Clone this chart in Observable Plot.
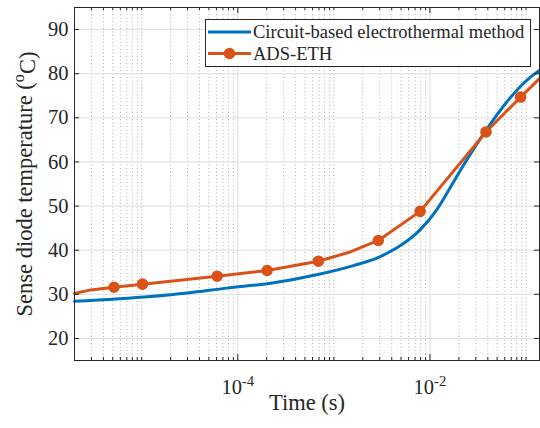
<!DOCTYPE html>
<html>
<head>
<meta charset="utf-8">
<script src="https://cdn.jsdelivr.net/npm/d3@7"></script>
<script src="https://cdn.jsdelivr.net/npm/@observablehq/plot@0.6"></script>
<style>
  html, body { margin: 0; padding: 0; background: white; }
  #chart { width: 540px; height: 428px; }
</style>
</head>
<body>
<div id="chart"></div>
<script>
// ---- data ----
const circuitTime = [2e-6, 1.24e-5, 3e-5, 7.6e-5, 2.19e-4, 7.2e-4, 1.6e-3, 3e-3, 5.3e-3, 7.9e-3, 1.18e-2, 1.68e-2, 2.06e-2, 3.89e-2, 6.3e-2, 8.63e-2, 0.1096, 0.138];
const circuitTemp = [28.4, 29.5, 30.3, 31.4, 32.5, 34.6, 36.5, 38.5, 41.5, 44.6, 49.2, 54.7, 58.0, 67.4, 73.6, 77.0, 79.1, 80.7];

const adsTime = [2e-6, 2.95e-6, 5.15e-6, 1.02e-5, 6.1e-5, 2.02e-4, 6.9e-4, 1.48e-3, 2.9e-3, 7.9e-3, 3.83e-2, 8.77e-2, 0.138];
const adsTemp = [30.2, 31.0, 31.6, 32.3, 34.1, 35.4, 37.5, 39.6, 42.2, 48.8, 66.8, 74.7, 78.9];
const adsMarkerIndex = [2, 3, 4, 5, 6, 8, 9, 10, 11];

const xTicks = [1e-4, 1e-2];
const yTicks = [20, 30, 40, 50, 60, 70, 80, 90];
const xDomain = [2e-6, 0.138];
const yDomain = [15, 95];

const seriesNames = ["Circuit-based electrothermal method", "ADS-ETH"];
const seriesColors = ["#0072BD", "#D95319"];
const xLabel = "Time (s)";
const yLabel = "Sense diode temperature (oC)";

// ---- derived tables ----
const circuit = circuitTime.map((t, i) => ({t, T: circuitTemp[i]}));
const ads = adsTime.map((t, i) => ({t, T: adsTemp[i]}));
const adsMarkers = adsMarkerIndex.map(i => ads[i]);

const minorX = [];
for (let e = -6; e <= -1; e++) {
  for (let m = 1; m <= 9; m++) {
    const v = +(m * Math.pow(10, e)).toPrecision(3);
    if (v >= xDomain[0] && v <= xDomain[1] && !xTicks.some(t => Math.abs(t - v) / t < 1e-6)) minorX.push(v);
  }
}

const W = 540, H = 428, mL = 74, mR = 1, mT = 7, mB = 68;
const fw = W - mL - mR, fh = H - mT - mB;
const axisColor = "#262626";
const tickFont = 20.5, labelFont = 22.5, legendFont = 18.5;

const plot = Plot.plot({
  width: W, height: H,
  marginLeft: mL, marginRight: mR, marginTop: mT, marginBottom: mB,
  style: {fontFamily: "'Liberation Serif', 'Times New Roman', serif", fontSize: tickFont + "px", color: axisColor, background: "white"},
  x: {type: "log", domain: xDomain, axis: null},
  y: {domain: yDomain, axis: null},
  marks: [
    // grid
    Plot.ruleX(minorX, {x: d => d, stroke: "#b0b0b0", strokeDasharray: "1,2.5", strokeWidth: 1}),
    Plot.ruleX(xTicks, {x: d => d, stroke: "#dedede", strokeWidth: 1}),
    Plot.ruleY(yTicks, {y: d => d, stroke: "#dedede", strokeWidth: 1}),
    // data
    Plot.line(circuit, {x: "t", y: "T", stroke: seriesColors[0], strokeWidth: 3, curve: "monotone-x"}),
    Plot.line(ads, {x: "t", y: "T", stroke: seriesColors[1], strokeWidth: 3}),
    Plot.dot(adsMarkers, {x: "t", y: "T", r: 4.8, fill: seriesColors[1], stroke: seriesColors[1], strokeWidth: 2}),
    // frame and inward ticks
    Plot.frame({stroke: axisColor, strokeWidth: 1}),
    Plot.tickX(xTicks, {x: d => d, stroke: axisColor, insetTop: fh - 6}),
    Plot.tickX(xTicks, {x: d => d, stroke: axisColor, insetBottom: fh - 6}),
    Plot.tickX(minorX, {x: d => d, stroke: axisColor, insetTop: fh - 3}),
    Plot.tickX(minorX, {x: d => d, stroke: axisColor, insetBottom: fh - 3}),
    Plot.tickY(yTicks, {y: d => d, stroke: axisColor, insetRight: fw - 5}),
    Plot.tickY(yTicks, {y: d => d, stroke: axisColor, insetLeft: fw - 5}),
    // tick labels
    Plot.axisX(xTicks, {tickSize: 0, tickPadding: 18.5, tickFormat: d => "10^" + Math.round(Math.log10(d)), label: null, fontSize: tickFont}),
    Plot.axisY(yTicks, {tickSize: 0, tickPadding: 6, label: null, fontSize: tickFont}),
    // axis titles
    Plot.text([xLabel], {text: d => d, frameAnchor: "bottom", dy: 49, fontSize: labelFont, fill: axisColor}),
    Plot.text([yLabel], {text: d => d, frameAnchor: "left", textAnchor: "middle", dx: -50, rotate: -90, fontSize: labelFont, fill: axisColor})
  ]
});

document.getElementById("chart").appendChild(plot);
const svg = d3.select(plot);

// superscripts (tick exponents and the degree "o")
svg.selectAll("text").each(function () {
  const t = d3.select(this);
  const s = this.textContent;
  if (s.includes("^")) {
    const [base, exp] = s.split("^");
    t.text(null);
    t.append("tspan").text(base);
    t.append("tspan").attr("dy", "-0.48em").attr("font-size", "0.72em").text(exp);
  } else if (s.includes("(oC)")) {
    const i = s.lastIndexOf("(o");
    t.text(null);
    t.append("tspan").text(s.slice(0, i + 1));
    t.append("tspan").attr("dy", "-0.45em").attr("font-size", "0.72em").text("o");
    t.append("tspan").attr("dy", "0.45em").text(s.slice(i + 2));
  }
});

// legend
const lg = svg.append("g").attr("font-size", legendFont + "px").attr("fill", axisColor).attr("text-anchor", "start");
lg.append("rect").attr("x", 205.5).attr("y", 19.5).attr("width", 325).attr("height", 47)
  .attr("fill", "white").attr("stroke", axisColor).attr("stroke-width", 1);
const rows = [32, 53.5];
seriesNames.forEach((name, i) => {
  lg.append("line").attr("x1", 208).attr("x2", 251).attr("y1", rows[i]).attr("y2", rows[i])
    .attr("stroke", seriesColors[i]).attr("stroke-width", 3);
  if (i === 1) lg.append("circle").attr("cx", 229.5).attr("cy", rows[i]).attr("r", 4.8)
    .attr("fill", seriesColors[i]).attr("stroke", seriesColors[i]).attr("stroke-width", 2);
  lg.append("text").attr("x", 253).attr("y", rows[i] + 6.3).text(name);
});
</script>
</body>
</html>
